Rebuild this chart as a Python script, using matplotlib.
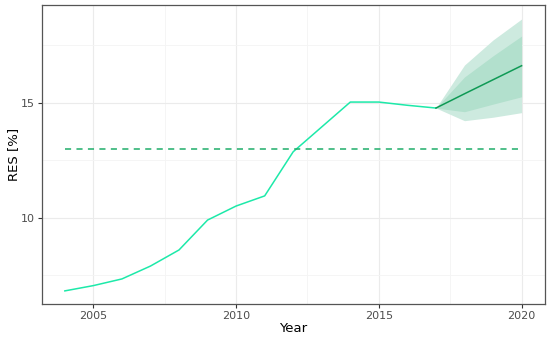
import numpy as np
import matplotlib.pyplot as plt

# observed RES share
years = [2004, 2005, 2006, 2007, 2008, 2009, 2010, 2011, 2012, 2013, 2014, 2015, 2016, 2017]
res = [6.83, 7.06, 7.35, 7.91, 8.61, 9.91, 10.52, 10.96, 12.88, 13.96, 15.04, 15.04, 14.9, 14.78]

# forecast with 80% / 95% bands
fc_years = [2017, 2018, 2019, 2020]
fc_mean = [14.78, 15.40, 16.01, 16.62]
lo80 = [14.78, 14.62, 14.95, 15.27]
hi80 = [14.78, 16.13, 17.05, 17.91]
lo95 = [14.78, 14.23, 14.38, 14.58]
hi95 = [14.78, 16.65, 17.74, 18.65]

target = 13.0
target_years = [2004, 2020]

fig = plt.figure(figsize=(5.5, 3.41), dpi=100)
ax = fig.add_axes([42/550, 37/341, 503/550, 299/341])

ax.fill_between(fc_years, lo95, hi95, color='#cdeadf', lw=0)
ax.fill_between(fc_years, lo80, hi80, color='#b2e0cd', lw=0)
ax.plot(years, res, color='#1de9a9', lw=1.1)
ax.plot(fc_years, fc_mean, color='#0f9a55', lw=1.1)
ax.plot(target_years, [target, target], color='#1fae6a', lw=1.1, ls=(0, (4, 3.5)))

ax.set_xlim(2003.2, 2020.82)
ax.set_ylim(6.26, 19.26)
ax.set_xticks([2005, 2010, 2015, 2020])
ax.set_yticks([10, 15])
ax.set_xticks([2007.5, 2012.5, 2017.5], minor=True)
ax.set_yticks([7.5, 12.5, 17.5], minor=True)
ax.grid(which='major', color='#ebebeb', lw=0.8)
ax.grid(which='minor', color='#f4f4f4', lw=0.6)
ax.set_axisbelow(True)
ax.tick_params(which='minor', length=0)
ax.tick_params(which='major', length=3, color='#333333', labelsize=8, labelcolor='#4d4d4d',
               width=0.8, pad=2)
for s in ax.spines.values():
    s.set_color('#555555')
    s.set_linewidth(0.9)

ax.set_xlabel('Year', fontsize=9.5, labelpad=1)
ax.set_ylabel('RES [%]', fontsize=9.5, labelpad=1)

fig.savefig('out.png', dpi=100)
